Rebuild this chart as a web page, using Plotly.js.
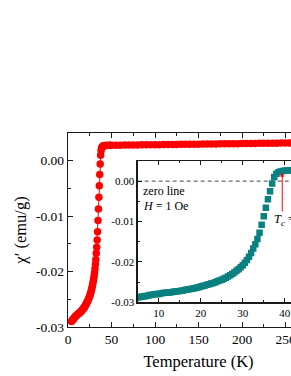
<!DOCTYPE html>
<html>
<head>
<meta charset="utf-8">
<script src="https://cdn.plot.ly/plotly-3.0.1.min.js"></script>
<style>
html,body{margin:0;padding:0;overflow:hidden;background:#fff;width:291px;height:376px;}
#chart{width:340px;height:376px;}
</style>
</head>
<body>
<div id="chart"></div>
<script>
// Temperature (K)
const temperature = [
  4.0,4.5,5.0,5.5,6.0,6.5,7.0,7.5,8.0,8.5,9.0,9.5,10.0,10.5,11.0,11.5,12.0,12.5,13.0,13.5,
  14.0,14.5,15.0,15.5,16.0,16.5,17.0,17.5,18.0,18.5,19.0,19.5,20.0,20.5,21.0,21.5,22.0,22.5,
  23.0,23.5,24.0,24.5,25.0,25.5,26.0,26.5,27.0,27.5,28.0,28.5,29.0,29.5,30.0,30.5,31.0,31.5,
  32.0,32.5,33.0,33.5,34.0,34.5,35.0,35.5,36.0,36.5,37.0,37.5,38.0,38.5,39.0,39.5,40.0,40.5,
  41.0,41.5,42.0,43,44,46,48,50,55,60,65,70,75,80,85,90,95,100,105,110,115,120,125,130,135,
  140,145,150,155,160,165,170,175,180,185,190,195,200,205,210,215,220,225,230,235,240,245,
  250,255,260,265,270,275,280,285,290,295,300
];
// AC susceptibility chi' (emu/g)
const chiPrime = [
  -0.0290,-0.0289,-0.0288,-0.0287,-0.0286,-0.0285,-0.0284,-0.0283,-0.0282,-0.0281,-0.0280,-0.02795,
  -0.0279,-0.0278,-0.0277,-0.02765,-0.0276,-0.02755,-0.0275,-0.0274,-0.0273,-0.02725,-0.0272,-0.0271,
  -0.0270,-0.0269,-0.0268,-0.0267,-0.0266,-0.0265,-0.0264,-0.02625,-0.0261,-0.02595,-0.0258,-0.02565,
  -0.0255,-0.02535,-0.0252,-0.0250,-0.0248,-0.0246,-0.0244,-0.02415,-0.0239,-0.0236,-0.0233,-0.02295,
  -0.0226,-0.0222,-0.0218,-0.0213,-0.0208,-0.0202,-0.0195,-0.0187,-0.0178,-0.0167,-0.0156,-0.0143,
  -0.0128,-0.0108,-0.0087,-0.0066,-0.0045,-0.0025,-0.0006,0.0010,0.0018,0.0022,0.0024,0.0025,
  0.0026,0.00265,0.0027,0.00272,0.00274,0.00275,0.00276,0.00277,0.00278,0.00279,0.00280,0.00281,
  0.00282,0.00283,0.00284,0.00285,0.00286,0.00287,0.00288,0.00289,0.00290,0.00291,0.00292,0.00293,
  0.00294,0.00295,0.00296,0.00297,0.00298,0.00299,0.00300,0.00301,0.00302,0.00303,0.00304,0.00305,
  0.00306,0.00307,0.00308,0.00309,0.00310,0.00311,0.00312,0.00313,0.00314,0.00315,0.00316,0.00317,
  0.00318,0.00319,0.00320,0.00321,0.00322,0.00323,0.00324,0.00325,0.00326,0.00327,0.00328,0.00329
];

const mainXTicks = [0,50,100,150,200,250,300];
const mainXLabels = ["0","50","100","150","200","250","300"];
const yTicks = [0.00,-0.01,-0.02,-0.03];
const yLabels = ["0.00","-0.01","-0.02","-0.03"];
const insetXTicks = [10,20,30,40];
const insetXLabels = ["10","20","30","40"];

const serif = "Liberation Serif, Times New Roman, serif";
const frame = "#1a1a1a";

const traces = [
  {
    x: temperature, y: chiPrime, xaxis: "x", yaxis: "y",
    type: "scatter", mode: "lines+markers",
    line: {color: "#ff0000", width: 1},
    marker: {symbol: "circle", size: 7.5, color: "#ff0000"},
    hoverinfo: "skip"
  },
  {
    x: temperature, y: chiPrime, xaxis: "x2", yaxis: "y2",
    type: "scatter", mode: "markers",
    marker: {symbol: "square", size: 6.5, color: "#0a8080"},
    hoverinfo: "skip"
  }
];

const axisCommon = {
  showline: true, linecolor: frame, linewidth: 1.2, mirror: "allticks",
  ticks: "inside", tickcolor: frame, tickwidth: 1,
  showgrid: false, zeroline: false, fixedrange: true
};

const layout = {
  width: 340, height: 376,
  margin: {l: 68, r: 11, t: 133, b: 49},
  paper_bgcolor: "#ffffff", plot_bgcolor: "#ffffff",
  showlegend: false,
  font: {family: serif, color: "#000"},
  xaxis: Object.assign({}, axisCommon, {
    domain: [0, 1], range: [0, 300],
    tickmode: "array", tickvals: mainXTicks, ticktext: mainXLabels,
    ticklen: 5, tickfont: {size: 13.5, family: serif, color: "#000"},
    minor: {tickmode: "linear", tick0: 0, dtick: 25, ticks: "inside", ticklen: 3, tickcolor: frame},
    title: {text: "Temperature (K)", font: {size: 16.5, family: serif, color: "#000"}, standoff: 9}
  }),
  yaxis: Object.assign({}, axisCommon, {
    domain: [0, 1], range: [-0.03, 0.005],
    tickmode: "array", tickvals: yTicks, ticktext: yLabels,
    ticklen: 5, tickfont: {size: 13.5, family: serif, color: "#000"},
    minor: {tickmode: "linear", tick0: 0, dtick: 0.005, ticks: "inside", ticklen: 3, tickcolor: frame},
    title: {text: "χ′ (emu/g)", font: {size: 16.5, family: serif, color: "#000"}, standoff: 5}
  }),
  xaxis2: Object.assign({}, axisCommon, {
    domain: [0.267, 0.911], range: [5, 45], anchor: "y2",
    tickmode: "array", tickvals: insetXTicks, ticktext: insetXLabels,
    ticklen: 4, tickfont: {size: 11, family: serif, color: "#000"},
    minor: {tickmode: "linear", tick0: 0, dtick: 5, ticks: "inside", ticklen: 2.5, tickcolor: frame}
  }),
  yaxis2: Object.assign({}, axisCommon, {
    domain: [0.127, 0.856], range: [-0.03, 0.005], anchor: "x2",
    tickmode: "array", tickvals: yTicks, ticktext: yLabels,
    ticklen: 4, tickfont: {size: 11, family: serif, color: "#000"},
    minor: {tickmode: "linear", tick0: 0, dtick: 0.005, ticks: "inside", ticklen: 2.5, tickcolor: frame}
  }),
  shapes: [
    {type: "line", xref: "x2", yref: "y2", x0: 5, x1: 45, y0: 0, y1: 0,
     line: {color: "#444", width: 1, dash: "4px,3px"}, layer: "below"}
  ],
  annotations: [
    {xref: "x2", yref: "y2", x: 5.8, y: -0.0024, xanchor: "left", yanchor: "middle",
     text: "zero line", showarrow: false, font: {size: 12, family: serif, color: "#000"}},
    {xref: "x2", yref: "y2", x: 5.8, y: -0.0061, xanchor: "left", yanchor: "middle",
     text: "<i>H</i> = 1 Oe", showarrow: false, font: {size: 12, family: serif, color: "#000"}},
    {xref: "x2", yref: "y2", x: 39.4, y: 0.0021, ax: 39.4, ay: -0.0079,
     axref: "x2", ayref: "y2", showarrow: true, arrowhead: 2, arrowsize: 0.8,
     arrowwidth: 1, arrowcolor: "#ff0000", text: ""},
    {xref: "x2", yref: "y2", x: 37.0, y: -0.0095, xanchor: "left", yanchor: "middle",
     text: "<i>T<sub>c</sub></i> = 39 K", showarrow: false, font: {size: 12.5, family: serif, color: "#000"}}
  ]
};

Plotly.newPlot("chart", traces, layout, {staticPlot: true, displayModeBar: false});
</script>
</body>
</html>
